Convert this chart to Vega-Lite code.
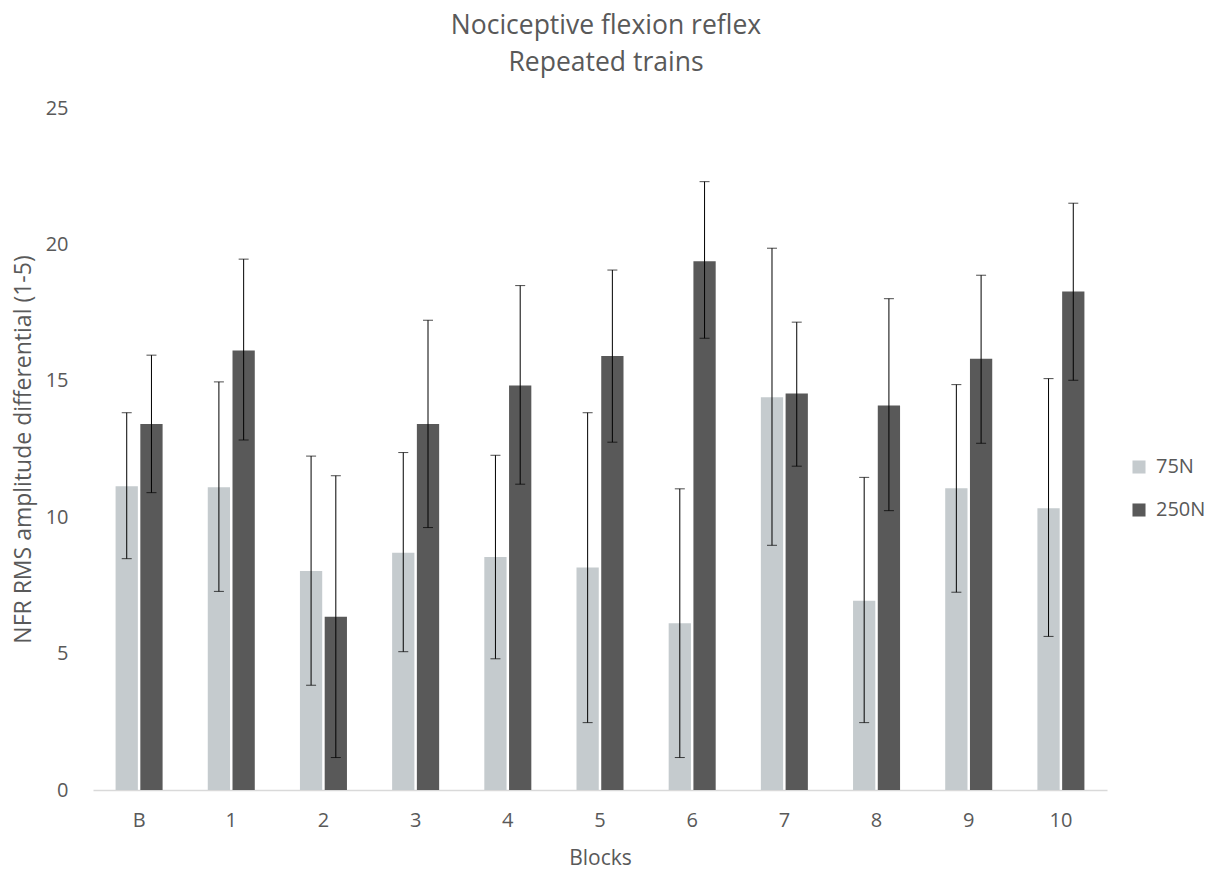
{
  "$schema": "https://vega.github.io/schema/vega-lite/v6.json",
  "width": 1014,
  "height": 682,
  "autosize": "none",
  "padding": {"left": 93, "top": 108, "right": 102, "bottom": 79},
  "background": "white",
  "config": {"view": {"stroke": null}, "font": "Open Sans"},
  "title": {
    "text": ["Nociceptive flexion reflex", "Repeated trains"],
    "font": "Open Sans",
    "fontSize": 26.5,
    "fontWeight": "normal",
    "color": "#595959",
    "lineHeight": 37,
    "offset": 22,
    "dx": 6
  },
  "data": {
    "values": [
      {"block": "B", "group": "75N", "value": 11.13, "lo": 8.48, "hi": 13.83},
      {"block": "B", "group": "250N", "value": 13.42, "lo": 10.90, "hi": 15.94},
      {"block": "1", "group": "75N", "value": 11.10, "lo": 7.28, "hi": 14.96},
      {"block": "1", "group": "250N", "value": 16.11, "lo": 12.83, "hi": 19.46},
      {"block": "2", "group": "75N", "value": 8.03, "lo": 3.84, "hi": 12.24},
      {"block": "2", "group": "250N", "value": 6.35, "lo": 1.19, "hi": 11.52},
      {"block": "3", "group": "75N", "value": 8.70, "lo": 5.07, "hi": 12.37},
      {"block": "3", "group": "250N", "value": 13.42, "lo": 9.62, "hi": 17.22},
      {"block": "4", "group": "75N", "value": 8.54, "lo": 4.81, "hi": 12.27},
      {"block": "4", "group": "250N", "value": 14.83, "lo": 11.21, "hi": 18.49},
      {"block": "5", "group": "75N", "value": 8.16, "lo": 2.47, "hi": 13.83},
      {"block": "5", "group": "250N", "value": 15.91, "lo": 12.75, "hi": 19.06},
      {"block": "6", "group": "75N", "value": 6.11, "lo": 1.19, "hi": 11.04},
      {"block": "6", "group": "250N", "value": 19.38, "lo": 16.56, "hi": 22.30},
      {"block": "7", "group": "75N", "value": 14.40, "lo": 8.97, "hi": 19.86},
      {"block": "7", "group": "250N", "value": 14.53, "lo": 11.87, "hi": 17.15},
      {"block": "8", "group": "75N", "value": 6.94, "lo": 2.47, "hi": 11.46},
      {"block": "8", "group": "250N", "value": 14.09, "lo": 10.24, "hi": 18.01},
      {"block": "9", "group": "75N", "value": 11.06, "lo": 7.25, "hi": 14.86},
      {"block": "9", "group": "250N", "value": 15.81, "lo": 12.71, "hi": 18.87},
      {"block": "10", "group": "75N", "value": 10.33, "lo": 5.63, "hi": 15.08},
      {"block": "10", "group": "250N", "value": 18.27, "lo": 15.02, "hi": 21.51}
    ]
  },
  "encoding": {
    "x": {
      "field": "block",
      "type": "nominal",
      "sort": ["B", "1", "2", "3", "4", "5", "6", "7", "8", "9", "10"],
      "scale": {"paddingInner": 0.49, "paddingOuter": 0.245},
      "axis": {
        "title": "Blocks",
        "labelAngle": 0,
        "domainColor": "#d9d9d9",
        "domainWidth": 1.5,
        "ticks": false,
        "labelPadding": 20,
        "labelFontSize": 20,
        "labelColor": "#595959",
        "labelFont": "Open Sans",
        "titleFont": "Open Sans",
        "titleFontSize": 21,
        "titleFontWeight": "normal",
        "titleColor": "#595959",
        "titlePadding": 17
      }
    },
    "xOffset": {
      "field": "group",
      "type": "nominal",
      "sort": ["75N", "250N"],
      "scale": {"paddingInner": 0.1}
    }
  },
  "layer": [
    {
      "mark": {"type": "bar"},
      "encoding": {
        "y": {
          "field": "value",
          "type": "quantitative",
          "scale": {"domain": [0, 25], "nice": false},
          "axis": {
            "title": "NFR RMS amplitude differential (1-5)",
            "values": [0, 5, 10, 15, 20, 25],
            "domain": false,
            "ticks": false,
            "grid": false,
            "labelPadding": 25,
            "labelFontSize": 20,
            "labelColor": "#595959",
            "labelFont": "Open Sans",
            "titleFont": "Open Sans",
            "titleFontSize": 23,
            "titleFontWeight": "normal",
            "titleColor": "#595959",
            "titlePadding": 10
          }
        },
        "color": {
          "field": "group",
          "type": "nominal",
          "sort": ["75N", "250N"],
          "scale": {"domain": ["75N", "250N"], "range": ["#c5cbce", "#595959"]},
          "legend": {
            "title": null,
            "orient": "none",
            "legendX": 1036,
            "legendY": 349,
            "symbolType": "square",
            "symbolSize": 170,
            "symbolStrokeWidth": 0,
            "labelFontSize": 20,
            "labelFont": "Open Sans",
            "labelColor": "#595959",
            "labelOffset": 7,
            "rowPadding": 23
          }
        }
      }
    },
    {
      "mark": {"type": "rule", "color": "black", "strokeWidth": 1},
      "encoding": {
        "y": {"field": "lo", "type": "quantitative", "scale": {"domain": [0, 25], "nice": false}},
        "y2": {"field": "hi"}
      }
    },
    {
      "mark": {"type": "tick", "color": "black", "size": 10, "thickness": 1, "orient": "horizontal"},
      "encoding": {"y": {"field": "lo", "type": "quantitative", "scale": {"domain": [0, 25], "nice": false}}}
    },
    {
      "mark": {"type": "tick", "color": "black", "size": 10, "thickness": 1, "orient": "horizontal"},
      "encoding": {"y": {"field": "hi", "type": "quantitative", "scale": {"domain": [0, 25], "nice": false}}}
    }
  ]
}
